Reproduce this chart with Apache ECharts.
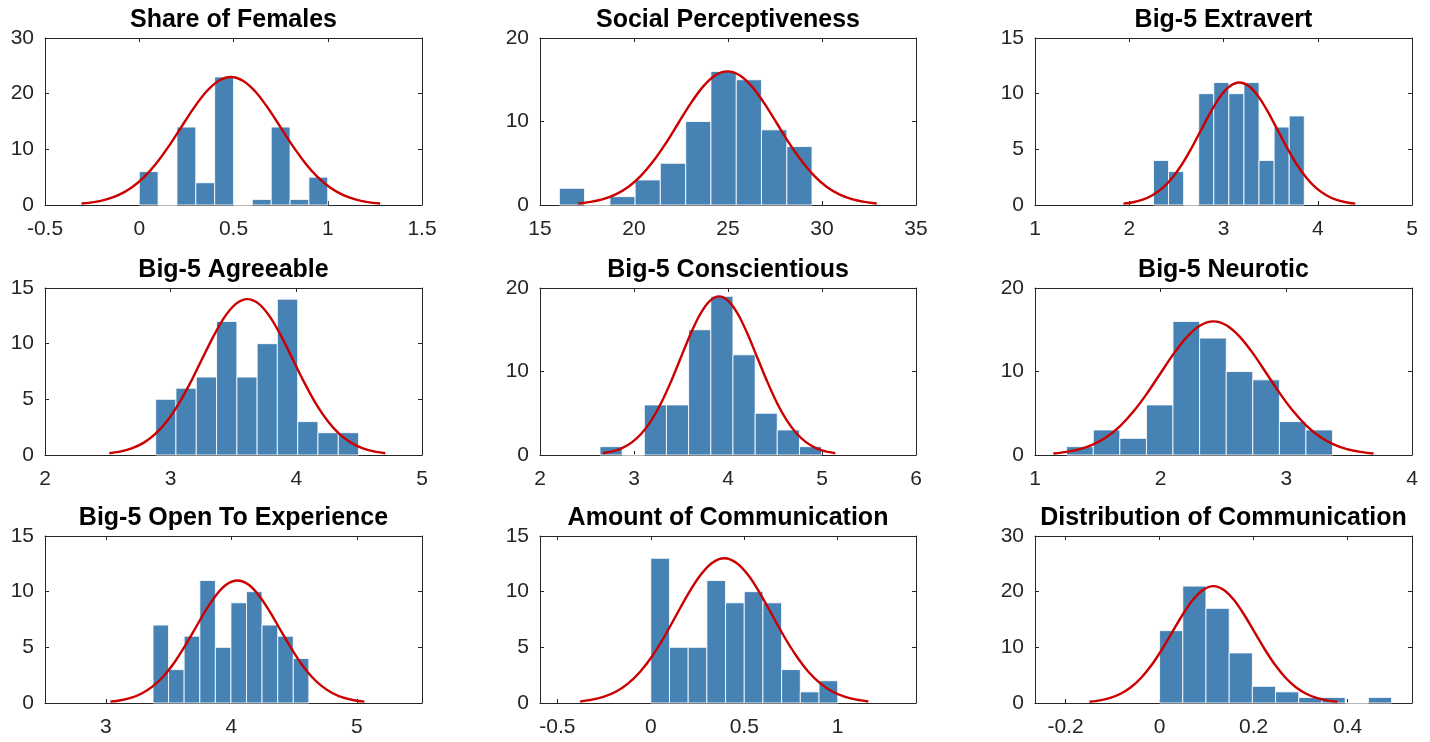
<!DOCTYPE html>
<html>
<head>
<meta charset="utf-8">
<script src="https://cdn.jsdelivr.net/npm/echarts@6/dist/echarts.min.js"></script>
<style>
html,body{margin:0;padding:0;background:#fff;}
#chart{width:1430px;height:742px;}
</style>
</head>
<body>
<div id="chart"></div>
<script>
// ---------- data ----------
const titles = ["Share of Females","Social Perceptiveness","Big-5 Extravert",
  "Big-5 Agreeable","Big-5 Conscientious","Big-5 Neurotic",
  "Big-5 Open To Experience","Amount of Communication","Distribution of Communication"];

// bin edges and counts per panel
const femEdges = [0,0.1,0.2,0.3,0.4,0.5,0.6,0.7,0.8,0.9,1.0];
const femCounts = [6,0,14,4,23,0,1,14,1,5];
const socEdges = [16.03,17.37,18.72,20.06,21.40,22.75,24.09,25.44,26.78,28.13,29.47];
const socCounts = [2,0,1,3,5,10,16,15,9,7];
const extEdges = [2.257,2.417,2.577,2.737,2.897,3.057,3.217,3.377,3.537,3.697,3.857];
const extCounts = [4,3,0,10,11,10,11,4,7,8];
const agrEdges = [2.881,3.042,3.204,3.365,3.527,3.688,3.849,4.011,4.172,4.334,4.495];
const agrCounts = [5,6,7,12,7,10,14,3,2,2];
const conEdges = [2.638,2.874,3.110,3.345,3.581,3.817,4.053,4.289,4.524,4.760,4.996];
const conCounts = [1,0,6,6,15,19,12,5,3,1];
const neuEdges = [1.252,1.464,1.675,1.887,2.098,2.310,2.522,2.733,2.945,3.156,3.368];
const neuCounts = [1,3,2,6,16,14,10,9,4,3];
const opeEdges = [3.376,3.500,3.624,3.749,3.873,3.997,4.121,4.245,4.370,4.494,4.618];
const opeCounts = [7,3,6,11,5,9,10,7,6,4];
const amtEdges = [0,0.1,0.2,0.3,0.4,0.5,0.6,0.7,0.8,0.9,1.0];
const amtCounts = [13,5,5,11,9,10,9,3,1,2];
const disEdges = [0,0.0494,0.0987,0.1481,0.1974,0.2468,0.2961,0.3455,0.3948,0.4442,0.4935];
const disCounts = [13,21,17,9,3,2,1,1,0,1];

// fitted curves, points
const femFitX = [-0.306,-0.240,-0.174,-0.108,-0.042,0.024,0.090,0.156,0.222,0.288,0.354,0.420,0.486,0.552,0.618,0.684,0.750,0.816,0.882,0.948,1.014,1.080,1.146,1.212,1.278];
const femFitY = [0.26,0.52,1.01,1.83,3.11,4.97,7.47,10.53,13.95,17.36,20.30,22.29,23.0,22.29,20.30,17.36,13.95,10.53,7.47,4.97,3.11,1.83,1.01,0.52,0.26];
const socFitX = [17.04,17.70,18.36,19.03,19.69,20.35,21.01,21.67,22.33,22.99,23.65,24.31,24.975,25.64,26.30,26.96,27.62,28.28,28.94,29.60,30.26,30.92,31.59,32.25,32.91];
const socFitY = [0.18,0.37,0.70,1.27,2.16,3.46,5.20,7.32,9.70,12.08,14.12,15.51,16.0,15.51,14.12,12.08,9.70,7.32,5.20,3.46,2.16,1.27,0.70,0.37,0.18];
const extFitX = [1.938,2.041,2.143,2.246,2.348,2.451,2.553,2.656,2.758,2.861,2.963,3.066,3.168,3.271,3.373,3.476,3.578,3.681,3.783,3.886,3.988,4.091,4.193,4.296,4.398];
const extFitY = [0.12,0.25,0.48,0.88,1.49,2.38,3.57,5.04,6.67,8.30,9.71,10.66,11.0,10.66,9.71,8.30,6.67,5.04,3.57,2.38,1.49,0.88,0.48,0.25,0.12];
const agrFitX = [2.512,2.604,2.695,2.787,2.878,2.970,3.061,3.153,3.244,3.336,3.427,3.519,3.610,3.702,3.793,3.885,3.976,4.068,4.159,4.251,4.342,4.434,4.525,4.617,4.708];
const agrFitY = [0.16,0.32,0.62,1.11,1.89,3.03,4.55,6.41,8.49,10.57,12.36,13.57,14.0,13.57,12.36,10.57,8.49,6.41,4.55,3.03,1.89,1.11,0.62,0.32,0.16];
const conFitX = [2.668,2.771,2.874,2.977,3.080,3.183,3.286,3.390,3.493,3.596,3.699,3.802,3.905,4.008,4.111,4.214,4.317,4.421,4.524,4.627,4.730,4.833,4.936,5.039,5.142];
const conFitY = [0.21,0.43,0.83,1.51,2.57,4.11,6.17,8.70,11.52,14.34,16.77,18.41,19.0,18.41,16.77,14.34,11.52,8.70,6.17,4.11,2.57,1.51,0.83,0.43,0.21];
const neuFitX = [1.146,1.252,1.358,1.464,1.570,1.677,1.783,1.889,1.995,2.101,2.208,2.314,2.420,2.526,2.632,2.739,2.845,2.951,3.057,3.163,3.270,3.376,3.482,3.588,3.694];
const neuFitY = [0.18,0.37,0.70,1.27,2.16,3.46,5.20,7.32,9.70,12.08,14.12,15.51,16.0,15.51,14.12,12.08,9.70,7.32,5.20,3.46,2.16,1.27,0.70,0.37,0.18];
const opeFitX = [3.036,3.120,3.205,3.289,3.373,3.458,3.542,3.626,3.711,3.795,3.880,3.964,4.049,4.133,4.217,4.302,4.386,4.471,4.555,4.639,4.724,4.808,4.893,4.977,5.061];
const opeFitY = [0.12,0.25,0.48,0.88,1.49,2.38,3.57,5.04,6.67,8.30,9.71,10.66,11.0,10.66,9.71,8.30,6.67,5.04,3.57,2.38,1.49,0.88,0.48,0.25,0.12];
const amtFitX = [-0.378,-0.314,-0.250,-0.185,-0.121,-0.057,0.008,0.072,0.136,0.200,0.265,0.329,0.393,0.457,0.522,0.586,0.650,0.714,0.779,0.843,0.907,0.971,1.036,1.100,1.164];
const amtFitY = [0.14,0.30,0.57,1.03,1.76,2.81,4.22,5.95,7.88,9.81,11.47,12.60,13.0,12.60,11.47,9.81,7.88,5.95,4.22,2.81,1.76,1.03,0.57,0.30,0.14];
const disFitX = [-0.149,-0.127,-0.105,-0.083,-0.061,-0.039,-0.017,0.005,0.027,0.049,0.071,0.093,0.1145,0.136,0.158,0.180,0.202,0.224,0.246,0.268,0.290,0.312,0.334,0.356,0.378];
const disFitY = [0.23,0.48,0.92,1.67,2.84,4.54,6.82,9.61,12.74,15.85,18.53,20.35,21.0,20.35,18.53,15.85,12.74,9.61,6.82,4.54,2.84,1.67,0.92,0.48,0.23];

// axis ranges and tick labels
const xMins = [-0.5,15,1,2,2,1,2.515,-0.593,-0.265];
const xMaxs = [1.5,35,5,5,6,4,5.52,1.419,0.537];
const xTicks = [[-0.5,0,0.5,1,1.5],[15,20,25,30,35],[1,2,3,4,5],[2,3,4,5],[2,3,4,5,6],[1,2,3,4],[3,4,5],[-0.5,0,0.5,1],[-0.2,0,0.2,0.4]];
const yMaxs = [30,20,15,15,20,20,15,15,30];
const yTicks = [[0,10,20,30],[0,10,20],[0,5,10,15],[0,5,10,15],[0,10,20],[0,10,20],[0,5,10,15],[0,5,10,15],[0,10,20,30]];

const panelEdges = [femEdges,socEdges,extEdges,agrEdges,conEdges,neuEdges,opeEdges,amtEdges,disEdges];
const panelCounts = [femCounts,socCounts,extCounts,agrCounts,conCounts,neuCounts,opeCounts,amtCounts,disCounts];
const panelFitX = [femFitX,socFitX,extFitX,agrFitX,conFitX,neuFitX,opeFitX,amtFitX,disFitX];
const panelFitY = [femFitY,socFitY,extFitY,agrFitY,conFitY,neuFitY,opeFitY,amtFitY,disFitY];

// ---------- layout ----------
const colLeft = [45, 540, 1035];
const colWidth = [377, 376, 377];
const rowTop = [38, 288, 536];
const plotH = 167;
const titleTop = [8, 258, 506];
const FONT = "'Liberation Sans', Arial, Helvetica, sans-serif";
const AX = '#262626';

const grids = [], xAxes = [], yAxes = [], series = [], titleComps = [];
for (let i = 0; i < 9; i++) {
  const r = Math.floor(i / 3), c = i % 3;
  grids.push({left: colLeft[c], top: rowTop[r], width: colWidth[c], height: plotH, containLabel: false});
  titleComps.push({
    text: titles[i], left: colLeft[c] + colWidth[c] / 2, top: titleTop[r], textAlign: 'center', padding: 0,
    textStyle: {fontFamily: FONT, fontWeight: 'bold', fontSize: 25, color: '#000'}
  });
  const tickCommon = {show: true, inside: true, length: 4, lineStyle: {color: AX, width: 1}};
  xAxes.push({
    gridIndex: i, type: 'value', min: xMins[i], max: xMaxs[i], position: 'bottom',
    axisLine: {show: true, onZero: false, lineStyle: {color: AX, width: 1}},
    axisTick: Object.assign({customValues: xTicks[i]}, tickCommon),
    axisLabel: {show: true, customValues: xTicks[i], margin: 14, color: AX, fontSize: 21, fontFamily: FONT,
      showMinLabel: true, showMaxLabel: true, hideOverlap: false},
    splitLine: {show: false}
  });
  xAxes.push({
    gridIndex: i, type: 'value', min: xMins[i], max: xMaxs[i], position: 'top',
    axisLine: {show: true, onZero: false, lineStyle: {color: AX, width: 1}},
    axisTick: Object.assign({customValues: xTicks[i]}, tickCommon),
    axisLabel: {show: false}, splitLine: {show: false}
  });
  yAxes.push({
    gridIndex: i, type: 'value', min: 0, max: yMaxs[i], position: 'left',
    axisLine: {show: true, onZero: false, lineStyle: {color: AX, width: 1}},
    axisTick: Object.assign({customValues: yTicks[i]}, tickCommon),
    axisLabel: {show: true, customValues: yTicks[i], margin: 11, color: AX, fontSize: 21, fontFamily: FONT,
      showMinLabel: true, showMaxLabel: true},
    splitLine: {show: false}
  });
  yAxes.push({
    gridIndex: i, type: 'value', min: 0, max: yMaxs[i], position: 'right',
    axisLine: {show: true, onZero: false, lineStyle: {color: AX, width: 1}},
    axisTick: Object.assign({customValues: yTicks[i]}, tickCommon),
    axisLabel: {show: false}, splitLine: {show: false}
  });

  const edges = panelEdges[i], counts = panelCounts[i];
  const barData = counts.map((v, k) => [edges[k], edges[k + 1], v]);
  series.push({
    type: 'custom', xAxisIndex: 2 * i, yAxisIndex: 2 * i, data: barData, z: 3,
    encode: {x: [0, 1], y: 2},
    renderItem: function (params, api) {
      const p0 = api.coord([api.value(0), api.value(2)]);
      const p1 = api.coord([api.value(1), 0]);
      return {
        type: 'rect',
        shape: {x: p0[0], y: p0[1], width: p1[0] - p0[0], height: p1[1] - p0[1]},
        style: {fill: '#4682B4', stroke: 'rgba(255,255,255,0.85)', lineWidth: 1}
      };
    }
  });
  const fx = panelFitX[i], fy = panelFitY[i];
  series.push({
    type: 'line', xAxisIndex: 2 * i, yAxisIndex: 2 * i, z: 5,
    data: fx.map((x, k) => [x, fy[k]]),
    smooth: 0.3, showSymbol: false, symbol: 'none',
    lineStyle: {color: '#CC0000', width: 2.4},
    silent: true, animation: false
  });
}

const chart = echarts.init(document.getElementById('chart'), null, {renderer: 'canvas'});
chart.setOption({
  animation: false,
  backgroundColor: '#fff',
  title: titleComps,
  grid: grids,
  xAxis: xAxes,
  yAxis: yAxes,
  series: series
});
</script>
</body>
</html>
